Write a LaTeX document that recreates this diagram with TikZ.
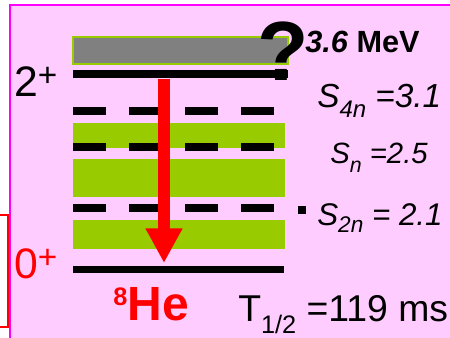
\documentclass[tikz,border=0pt]{standalone}
\usepackage{fontspec}
\setmainfont{Liberation Sans}
\usetikzlibrary{arrows.meta}
\definecolor{bgpink}{RGB}{255,204,255}
\definecolor{framepink}{RGB}{255,0,255}
\definecolor{bandgreen}{RGB}{153,204,0}
\definecolor{boxgray}{RGB}{128,128,128}
\newcommand{\lowidx}[3][0.28em]{\raisebox{-#1}{\fontsize{#2}{#2}\selectfont #3}}
\newcommand{\upidx}[3][0.3em]{\raisebox{#1}{\fontsize{#2}{#2}\selectfont #3}}

\begin{document}
\begin{tikzpicture}[x=0.75pt, y=-0.75pt,
    every node/.style={inner sep=0pt, anchor=base west},
    band/.style={fill=bandgreen},
    dashbar/.style={fill=black},
    decay/.style={red, line width=9pt, -{Triangle[length=26pt, width=26pt]}}]
    \useasboundingbox (0,0) rectangle (450,338);
    % background panel
    \fill[bgpink] (9.5,4.7) rectangle (450,338);
    \draw[framepink, line width=1.5pt] (9.5,338) -- (9.5,4.7) -- (450,4.7);
    \draw[red, line width=1pt] (0,215) -- (8,215) -- (8,327) -- (0,327);
    % levels
    \draw[fill=boxgray, draw=bandgreen, line width=1.5pt] (73,37) rectangle (288,64);
    \fill (73,70) rectangle (288,78);
    \foreach \ytop/\ybot in {123/148, 159/197, 220/249}
        \fill[band] (73,\ytop) rectangle (285,\ybot);
    \foreach \y in {111,147,208} {
        \foreach \x in {73,129,185,241}
            \fill[dashbar] (\x,\y-4) rectangle (\x+33,\y+4);
    }
    \fill (73,266) rectangle (284,273);
    \fill (298,206) rectangle (306,214);
    % decay arrow
    \coordinate (decaytop) at (164,79);
    \coordinate (decayend) at (164,263);
    \draw[decay] (decaytop) -- (decayend);
    \node[anchor=base] (unknown) at (283,81) {\fontsize{63}{63}\selectfont\bfseries ?};
    % labels
    \node (spintwo) at (14,97) {\fontsize{32}{34}\selectfont 2\upidx[0.24em]{25}{+}};
    \node[red] (spinzero) at (14,279) {\fontsize{32}{34}\selectfont 0\upidx[0.24em]{25}{+}};
    \node (energy) at (305,53) {\fontsize{23}{26}\selectfont\bfseries\textit{3.6} MeV};
    \node (sfour) at (317,108) {\fontsize{25}{30}\selectfont\itshape S\lowidx{18}{4n} =3.1};
    \node (sone) at (330,164) {\fontsize{22}{26}\selectfont\itshape S\lowidx{16}{n} =2.5};
    \node (stwo) at (317,226) {\fontsize{23.5}{28}\selectfont\itshape S\lowidx[0.22em]{17}{2n} = 2.1};
    \node[red] (nucleus) at (113,321) {\fontsize{36}{40}\selectfont\bfseries\upidx[0.33em]{19}{8}He};
    \node (halflife) at (238,322) {\fontsize{28}{32}\selectfont T\lowidx[0.3em]{19}{1/2} =119 ms};
\end{tikzpicture}
\end{document}
